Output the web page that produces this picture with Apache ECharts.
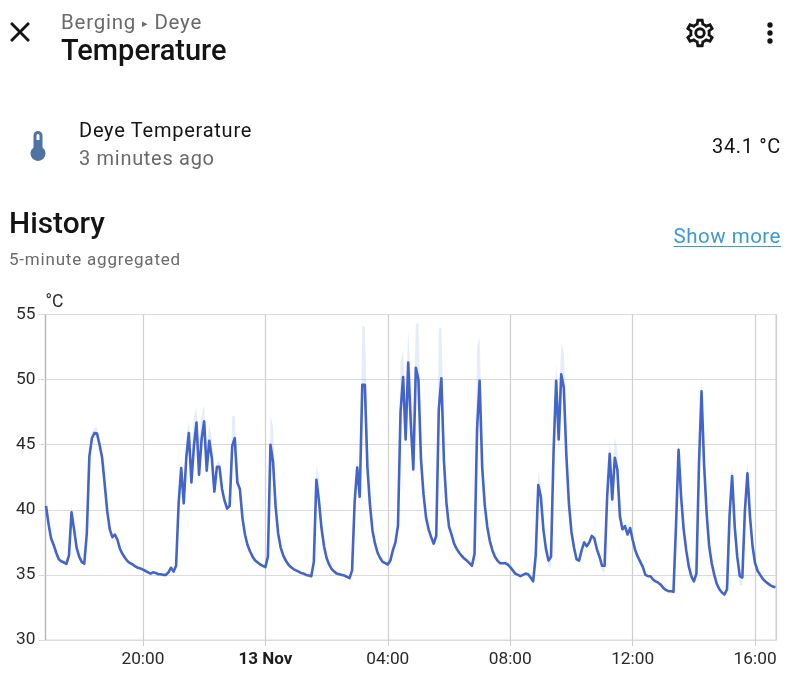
<!DOCTYPE html>
<html><head><meta charset="utf-8">
<script src="https://cdn.jsdelivr.net/npm/echarts@6/dist/echarts.min.js"></script>
<style>
html,body{margin:0;padding:0;background:#fff;width:800px;height:690px;overflow:hidden}
body{font-family:Roboto,sans-serif;position:relative;color:#141414}
#chart{position:absolute;left:0;top:0;width:800px;height:690px}
.t{position:absolute;white-space:nowrap;line-height:1}
svg{position:absolute}
</style></head><body>
<div id="chart"></div>
<svg style="left:3px;top:15px" width="34" height="34" viewBox="0 0 24 24"><path fill="#141414" d="M19,6.41L17.59,5L12,10.59L6.41,5L5,6.41L10.59,12L5,17.59L6.41,19L12,13.41L17.59,19L19,17.59L13.41,12L19,6.41Z"/></svg>
<div class="t" style="left:61px;top:12px;font-size:20.5px;letter-spacing:.75px;color:#6a6a6a">Berging <span style="font-size:11px;vertical-align:2px">&#9656;</span> Deye</div>
<div class="t" style="left:61px;top:36px;font-size:29px;font-weight:500">Temperature</div>
<svg style="left:683px;top:16px" width="34" height="34" viewBox="0 0 24 24"><path fill="#141414" d="M12,8A4,4 0 0,1 16,12A4,4 0 0,1 12,16A4,4 0 0,1 8,12A4,4 0 0,1 12,8M12,10A2,2 0 0,0 10,12A2,2 0 0,0 12,14A2,2 0 0,0 14,12A2,2 0 0,0 12,10M10,22C9.75,22 9.54,21.82 9.5,21.58L9.13,18.93C8.5,18.68 7.96,18.34 7.44,17.94L4.95,18.95C4.73,19.03 4.46,18.95 4.34,18.73L2.34,15.27C2.21,15.05 2.27,14.78 2.46,14.63L4.57,12.97L4.5,12L4.57,11L2.46,9.37C2.27,9.22 2.21,8.95 2.34,8.73L4.34,5.27C4.46,5.05 4.73,4.96 4.95,5.05L7.44,6.05C7.96,5.66 8.5,5.32 9.13,5.07L9.5,2.42C9.54,2.18 9.75,2 10,2H14C14.25,2 14.46,2.18 14.5,2.42L14.87,5.07C15.5,5.32 16.04,5.66 16.56,6.05L19.05,5.05C19.27,4.96 19.54,5.05 19.66,5.27L21.66,8.73C21.79,8.95 21.73,9.22 21.54,9.37L19.43,11L19.5,12L19.43,13L21.54,14.63C21.73,14.78 21.79,15.05 21.66,15.27L19.66,18.73C19.54,18.95 19.27,19.04 19.05,18.95L16.56,17.95C16.04,18.34 15.5,18.68 14.87,18.93L14.5,21.58C14.46,21.82 14.25,22 14,22H10M11.25,4L10.88,6.61C9.68,6.86 8.62,7.5 7.85,8.39L5.44,7.35L4.69,8.65L6.8,10.2C6.4,11.37 6.4,12.64 6.8,13.8L4.68,15.36L5.43,16.66L7.86,15.62C8.63,16.5 9.68,17.14 10.87,17.38L11.24,20H12.76L13.13,17.39C14.32,17.14 15.37,16.5 16.14,15.62L18.57,16.66L19.32,15.36L17.2,13.81C17.6,12.64 17.6,11.37 17.2,10.2L19.31,8.65L18.56,7.35L16.15,8.39C15.38,7.5 14.32,6.85 13.12,6.6L12.75,4H11.25Z"/></svg>
<svg style="left:754px;top:17px" width="32" height="32" viewBox="0 0 24 24"><path fill="#141414" d="M12,16A2,2 0 0,1 14,18A2,2 0 0,1 12,20A2,2 0 0,1 10,18A2,2 0 0,1 12,16M12,10A2,2 0 0,1 14,12A2,2 0 0,1 12,14A2,2 0 0,1 10,12A2,2 0 0,1 12,10M12,4A2,2 0 0,1 14,6A2,2 0 0,1 12,8A2,2 0 0,1 10,6A2,2 0 0,1 12,4Z"/></svg>
<svg style="left:20px;top:128px" width="36" height="36" viewBox="0 0 24 24"><path fill="#4f73a3" d="M15 13V5A3 3 0 0 0 9 5V13A5 5 0 1 0 15 13M12 4A1 1 0 0 1 13 5V8H11V5A1 1 0 0 1 12 4Z"/></svg>
<div class="t" style="left:79px;top:120px;font-size:20px;letter-spacing:.75px">Deye Temperature</div>
<div class="t" style="left:79px;top:148px;font-size:20px;letter-spacing:.7px;color:#6a6a6a">3 minutes ago</div>
<div class="t" style="right:19px;top:136px;font-size:20px;letter-spacing:.65px">34.1 °C</div>
<div class="t" style="left:9px;top:208px;font-size:29.8px;font-weight:500">History</div>
<div class="t" style="left:9px;top:251px;font-size:17px;letter-spacing:.8px;color:#6a6a6a">5-minute aggregated</div>
<div class="t" style="right:19px;top:226px;font-size:20.5px;letter-spacing:.5px;color:#3c9bd0;text-decoration:underline;text-underline-offset:3px;text-decoration-thickness:1px">Show more</div>
<script>
// 5-minute aggregated readings, first one at 16:50 on 12 Nov
const temps = [
40.3,38.9,37.8,37.3,36.7,36.2,36.05,35.95,35.85,36.5,
39.8,38.5,37.1,36.4,36.0,35.85,38.2,44.1,45.5,45.9,
45.85,45.0,44.0,42.0,39.9,38.5,37.9,38.1,37.7,37.0,
36.6,36.3,36.05,35.9,35.8,35.65,35.55,35.5,35.4,35.3,
35.2,35.1,35.2,35.15,35.05,35.05,35.0,35.0,35.2,35.55,
35.25,35.7,40.5,43.2,40.5,44.0,45.9,42.1,44.9,46.7,
42.7,45.4,46.8,43.0,45.3,44.0,41.4,43.3,43.3,41.6,
40.7,40.1,40.3,44.9,45.5,42.1,41.6,39.4,38.1,37.3,
36.8,36.4,36.1,35.95,35.8,35.7,35.6,36.4,45.0,43.7,
40.3,38.2,37.1,36.5,36.1,35.8,35.6,35.45,35.35,35.25,
35.15,35.1,35.0,34.95,34.9,36.0,42.3,40.7,38.6,37.2,
36.3,35.8,35.45,35.25,35.1,35.05,35.0,34.95,34.85,34.75,
35.35,40.6,43.25,41.0,49.6,49.6,43.3,40.4,38.4,37.4,
36.7,36.3,36.0,35.9,35.8,36.1,36.9,37.5,38.8,47.5,
50.2,45.4,51.3,46.7,43.1,50.9,50.0,43.9,41.2,39.4,
38.5,37.9,37.4,38.0,47.7,50.1,43.8,40.5,38.7,38.1,
37.4,37.0,36.7,36.45,36.25,36.1,35.9,35.7,36.6,46.2,
49.9,43.3,40.4,38.7,37.6,36.9,36.4,36.1,35.9,35.9,
35.9,35.8,35.6,35.35,35.1,35.0,34.9,35.0,35.1,35.05,
34.8,34.5,36.5,41.9,41.0,38.5,37.0,36.1,36.4,44.5,
49.9,45.4,50.4,49.4,44.2,40.5,38.3,37.1,36.2,36.1,
36.9,37.5,37.2,37.5,38.0,37.8,36.95,36.4,35.7,35.7,
41.0,44.3,40.8,44.0,43.1,39.5,38.5,38.75,38.1,38.6,
37.7,36.9,36.4,36.0,35.6,35.0,34.9,34.9,34.65,34.5,
34.4,34.25,34.0,33.85,33.75,33.75,33.7,38.8,44.6,41.0,
38.5,36.9,35.65,34.9,34.5,35.1,43.5,49.1,43.5,39.75,
37.2,35.9,35.0,34.3,33.9,33.65,33.5,33.9,39.6,42.6,
38.75,36.4,34.9,34.8,39.9,42.8,39.5,37.2,35.9,35.3,
35.0,34.7,34.5,34.35,34.2,34.1,34.05];
// Readings where the max band stands clear of the mean line
const highSteps = [10,18,19,20,53,55,56,57,58,59,60,61,62,63,64,65,67,68,73,74,75,88,89,90,106,107,122,123,124,125,126,139,140,141,142,143,144,145,146,147,154,155,156,169,170,171,172,193,194,199,200,201,202,203,204,205,221,222,223,224,225,248,249,256,257,258,268,269,270,274,275,276];
const highVals  = [40.4,46.0,46.3,46.3,44.1,45.5,46.9,44.0,47.2,47.8,45.0,47.3,48.0,45.0,46.5,45.5,43.7,43.7,47.2,47.2,43.6,47.3,46.4,41.5,43.3,42.6,44.1,42.5,54.1,54.1,46.0,51.4,52.2,48.0,53.8,50.0,46.5,54.3,54.3,47.0,53.9,54.0,46.5,52.5,53.3,46.0,41.5,43.0,41.9,46.5,51.3,48.0,52.8,52.2,46.5,41.5,45.4,42.5,45.6,44.6,41.0,45.4,42.0,45.0,50.1,45.0,41.5,43.5,39.5,40.8,43.7,40.5];
// Readings where the min band drops below the mean line
const lowSteps = [54,57,60,63,66,123,141,144,152,197,198,201,218,219,222,254,266,272,273];
const lowVals  = [40.2,41.2,41.9,42.3,41.0,40.1,44.4,42.2,37.2,35.7,35.45,44.2,35.3,35.2,40.0,34.3,33.3,34.2,34.2];
const yTicks = [30,35,40,45,50,55];
const xTickLabels = {20:"20:00",0:"13 Nov",4:"04:00",8:"08:00",12:"12:00",16:"16:00"};
const unit = "°C";

const t0 = new Date(2024,10,12,16,50).getTime();
const stepMs = 300000;
const fourHours = 4*3600000;
const time = i => t0 + i*stepMs;
const highs = temps.slice(), lows = temps.slice();
highSteps.forEach((s,i)=>highs[s]=highVals[i]);
lowSteps.forEach((s,i)=>lows[s]=lowVals[i]);

const chart = echarts.init(document.getElementById('chart'));
const grey='#dadada', font='Roboto';
chart.setOption({
  animation:false,
  grid:{left:45.5,right:24,top:314.5,bottom:50,show:true,borderColor:grey,borderWidth:1.2,backgroundColor:'transparent'},
  xAxis:{type:'time',min:t0-60000,max:time(286)+60000,minInterval:fourHours,maxInterval:fourHours,
    axisLine:{show:true,onZero:false,lineStyle:{color:grey,width:1.2}},
    axisTick:{show:true,length:6,lineStyle:{color:'#cfcfcf'}},
    splitLine:{show:true,lineStyle:{color:'#cfcfcf',width:1.2}},
    axisLabel:{margin:11,fontFamily:font,fontSize:17.3,color:'#2a2a2a',hideOverlap:false,showMinLabel:false,showMaxLabel:false,
      formatter:v=>{const d=new Date(v);if(d.getMinutes()!==0||d.getHours()%4!==0)return '';const s=xTickLabels[d.getHours()];return d.getHours()===0?'{b|'+s+'}':s;},
      rich:{b:{fontWeight:'bold',fontFamily:font,fontSize:17,color:'#1c1c1c'}}}},
  yAxis:{type:'value',min:30,max:55,interval:5,name:unit,nameLocation:'end',nameGap:3,
    nameTextStyle:{fontFamily:font,fontSize:17.5,color:'#2a2a2a',align:'left'},
    axisLine:{show:true,lineStyle:{color:'#b5b5b5',width:1.2}},
    axisTick:{show:true,length:7,lineStyle:{color:grey}},
    splitLine:{show:true,lineStyle:{color:grey,width:1.2}},
    axisLabel:{margin:10,fontFamily:font,fontSize:17.3,color:'#2a2a2a',padding:[2,0,0,0]}},
  series:[
    {type:'line',name:'low',stack:'band',symbol:'none',lineStyle:{width:0,opacity:0},silent:true,
      data:lows.map((v,i)=>[time(i),v])},
    {type:'line',name:'range',stack:'band',symbol:'none',lineStyle:{width:0,opacity:0},silent:true,
      areaStyle:{color:'rgba(67,100,205,0.18)'},
      data:highs.map((v,i)=>[time(i),+(v-lows[i]).toFixed(2)])},
    {type:'line',name:'Deye Temperature',symbol:'none',sampling:'none',lineStyle:{width:2.6,color:'#4364cd',join:'round'},
      data:temps.map((v,i)=>[time(i),v])}
  ]
});
</script>
</body></html>
